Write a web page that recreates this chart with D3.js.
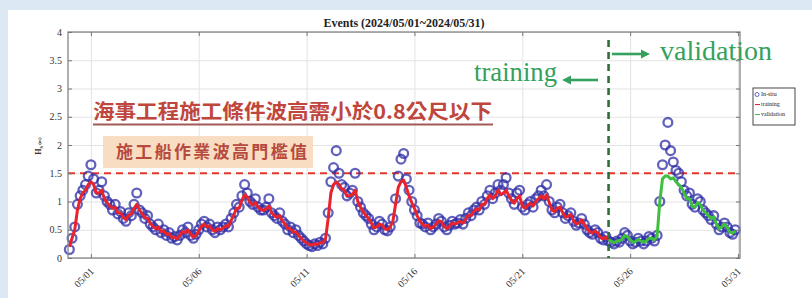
<!DOCTYPE html>
<html>
<head>
<meta charset="utf-8">
<script src="https://cdn.jsdelivr.net/npm/d3@7"></script>
<style>
html, body { margin: 0; padding: 0; background: #dde8f5; }
svg { display: block; }
</style>
</head>
<body>
<svg id="chart" width="812" height="298"></svg>
<script>
// 3-hourly Hs series, first sample at 2024-04-30 00:00
var startTime = "2024-04-30T00:00";
var stepHours = 3;

// in-situ observations (m)
var obsHs = [
  0.15, 0.35, 0.55, 0.95, 1.1, 1.2, 1.3, 1.45,
  1.65, 1.4, 1.15, 1.2, 1.35, 1.1, 1.0, 0.95,
  0.85, 0.95, 0.78, 0.82, 0.7, 0.65, 0.8, 0.75,
  0.95, 1.15, 0.85, 0.8, 0.7, 0.75, 0.6, 0.55,
  0.5, 0.6, 0.45, 0.5, 0.4, 0.45, 0.35, 0.38,
  0.32, 0.4, 0.5, 0.45, 0.55, 0.4, 0.35, 0.42,
  0.5, 0.6, 0.65, 0.55, 0.6, 0.5, 0.45, 0.55,
  0.5, 0.55, 0.6, 0.55, 0.7, 0.8, 0.95, 0.9,
  1.1, 1.3, 1.15, 1.0, 0.95, 1.05, 0.9, 0.85,
  0.85, 0.9, 1.05, 0.8, 0.75, 0.7, 0.8, 0.65,
  0.6, 0.5, 0.55, 0.45, 0.5, 0.4, 0.35, 0.3,
  0.25, 0.22, 0.2, 0.25, 0.22, 0.28, 0.25, 0.35,
  0.8, 1.35, 1.6, 1.9, 1.5, 1.3, 1.25, 1.1,
  1.15, 1.2, 1.5, 1.0, 0.9, 0.8, 0.75, 0.7,
  0.6, 0.5, 0.55, 0.65, 0.6, 0.5, 0.48, 0.55,
  0.7, 1.05, 1.45, 1.75, 1.85, 1.4, 1.2, 1.0,
  0.85, 0.75, 0.62, 0.6, 0.55, 0.62, 0.5, 0.55,
  0.6, 0.7, 0.65, 0.55, 0.5, 0.58, 0.65, 0.6,
  0.62, 0.68, 0.6, 0.7, 0.8, 0.75, 0.85, 0.9,
  0.85, 1.0, 0.95, 1.1, 1.2, 1.05, 1.15, 1.3,
  1.2, 1.3, 1.42, 1.15, 1.05, 0.95, 1.15, 1.2,
  0.9, 0.85, 0.95, 1.0, 0.9, 1.05, 1.1, 1.2,
  1.1, 1.3, 1.0, 0.85, 0.8, 0.9, 0.95, 0.8,
  0.7, 0.75, 0.8, 0.65, 0.58, 0.62, 0.7, 0.6,
  0.5, 0.45, 0.42, 0.5, 0.45, 0.35, 0.32, 0.38,
  0.3, 0.28, 0.25, 0.3, 0.28, 0.35, 0.45, 0.4,
  0.3, 0.25, 0.28, 0.35, 0.3, 0.25, 0.3, 0.38,
  0.35, 0.3, 0.4, 1.0, 1.65, 2.0, 2.4, 1.9,
  1.7, 1.55, 1.5, 1.35, 1.2, 1.1, 1.15, 0.95,
  0.9, 1.05, 1.0, 0.85, 0.8, 0.75, 0.68, 0.75,
  0.6, 0.5, 0.55, 0.62, 0.55, 0.45, 0.42, 0.5
];

// model output (m)
var predHs = [
  0.2, 0.35, 0.5, 0.85, 1.05, 1.15, 1.2, 1.3,
  1.35, 1.3, 1.15, 1.15, 1.2, 1.05, 0.98, 0.92,
  0.88, 0.9, 0.8, 0.8, 0.72, 0.68, 0.76, 0.78,
  0.88, 0.95, 0.85, 0.78, 0.72, 0.7, 0.62, 0.56,
  0.52, 0.55, 0.47, 0.48, 0.42, 0.43, 0.36, 0.37,
  0.34, 0.4, 0.47, 0.45, 0.5, 0.42, 0.37, 0.4,
  0.48, 0.56, 0.6, 0.55, 0.57, 0.5, 0.47, 0.52,
  0.5, 0.53, 0.57, 0.56, 0.66, 0.76, 0.88, 0.88,
  1.02, 1.12, 1.08, 0.98, 0.94, 0.98, 0.9, 0.86,
  0.84, 0.87, 0.92, 0.8, 0.75, 0.72, 0.75, 0.66,
  0.6, 0.52, 0.52, 0.46, 0.46, 0.4, 0.35, 0.3,
  0.27, 0.24, 0.23, 0.25, 0.24, 0.27, 0.27, 0.33,
  0.7, 1.15, 1.3, 1.35, 1.3, 1.22, 1.2, 1.1,
  1.1, 1.12, 1.2, 1.0, 0.9, 0.82, 0.75, 0.7,
  0.62, 0.53, 0.55, 0.6, 0.58, 0.52, 0.5, 0.55,
  0.65, 0.95, 1.25, 1.35, 1.38, 1.25, 1.1, 0.98,
  0.88, 0.75, 0.65, 0.6, 0.56, 0.58, 0.52, 0.55,
  0.6, 0.66, 0.64, 0.56, 0.52, 0.56, 0.62, 0.6,
  0.62, 0.65, 0.62, 0.68, 0.76, 0.75, 0.82, 0.87,
  0.85, 0.95, 0.95, 1.05, 1.12, 1.05, 1.1, 1.2,
  1.12, 1.15, 1.2, 1.1, 1.02, 0.97, 1.05, 1.1,
  0.92, 0.88, 0.93, 0.97, 0.92, 1.0, 1.05, 1.1,
  1.05, 1.12, 0.98, 0.85, 0.82, 0.88, 0.9, 0.8,
  0.72, 0.74, 0.77, 0.66, 0.6, 0.62, 0.67, 0.6,
  0.52, 0.47, 0.44, 0.48, 0.44, 0.36, 0.34, 0.37,
  0.32, 0.3, 0.27, 0.3, 0.3, 0.33, 0.4, 0.38,
  0.32, 0.28, 0.29, 0.33, 0.3, 0.28, 0.3, 0.35,
  0.35, 0.32, 0.38, 1.0, 1.4, 1.45, 1.45, 1.4,
  1.42, 1.35, 1.3, 1.25, 1.15, 1.05, 1.05, 0.92,
  0.9, 0.98, 0.95, 0.85, 0.8, 0.75, 0.7, 0.73,
  0.6, 0.52, 0.55, 0.6, 0.54, 0.46, 0.44, 0.48
];

var splitTime = "2024-05-25T00:00";   // training | validation
var xTickLabels = ["05/01", "05/06", "05/11", "05/16", "05/21", "05/26", "05/31"];
var yTicks = [0, 0.5, 1, 1.5, 2, 2.5, 3, 3.5, 4];
var thresholdHs = 1.5;
var legendLabels = ["In-situ", "training", "validation"];
var titleText = "Events (2024/05/01~2024/05/31)";
var noteMain = "海事工程施工條件波高需小於0.8公尺以下";
var noteBox = "施工船作業波高門檻值";

var parseT = d3.timeParse("%Y-%m-%dT%H:%M");
var parseTick = d3.timeParse("%Y/%m/%d");
var t0 = parseT(startTime);
var tSplit = parseT(splitTime);

var data = obsHs.map(function(v, i) {
  return { t: d3.timeHour.offset(t0, i * stepHours), obs: v, pred: predHs[i] };
});

var margin = { left: 68, right: 740, top: 32, bottom: 258 };

var x = d3.scaleTime()
  .domain([parseT("2024-04-29T22:30"), parseT("2024-05-31T02:15")])
  .range([margin.left, margin.right]);
var y = d3.scaleLinear().domain([0, 4]).range([margin.bottom, margin.top]);

var xTicks = xTickLabels.map(function(s) { return parseTick("2024/" + s); });

var svg = d3.select("#chart");
var serif = "'Liberation Serif', 'DejaVu Serif', serif";
var green = "#34a15c";

// white panel
svg.append("rect").attr("x", 8).attr("y", 10).attr("width", 804).attr("height", 288).attr("fill", "#ffffff");

// grid
svg.append("g")
  .attr("transform", "translate(0," + margin.bottom + ")")
  .call(d3.axisBottom(x).tickValues(xTicks).tickSize(-(margin.bottom - margin.top)).tickFormat(""))
  .call(function(g) { g.select(".domain").remove(); g.selectAll("line").attr("stroke", "#e3e3e3"); });
svg.append("g")
  .attr("transform", "translate(" + margin.left + ",0)")
  .call(d3.axisLeft(y).tickValues(yTicks).tickSize(-(margin.right - margin.left)).tickFormat(""))
  .call(function(g) { g.select(".domain").remove(); g.selectAll("line").attr("stroke", "#e3e3e3"); });

// threshold line
svg.append("line")
  .attr("x1", margin.left).attr("x2", margin.right)
  .attr("y1", y(thresholdHs)).attr("y2", y(thresholdHs))
  .attr("stroke", "#e2392e").attr("stroke-width", 2.2).attr("stroke-dasharray", "7,5");

// in-situ circles
svg.append("g").selectAll("circle")
  .data(data)
  .enter().append("circle")
  .attr("cx", function(d) { return x(d.t); })
  .attr("cy", function(d) { return y(d.obs); })
  .attr("r", 4.4)
  .attr("fill", "none")
  .attr("stroke", "#2e2ea6")
  .attr("stroke-opacity", 0.75)
  .attr("stroke-width", 2.3);

var line = d3.line()
  .x(function(d) { return x(d.t); })
  .y(function(d) { return y(d.pred); });

var trainData = data.filter(function(d) { return d.t <= tSplit; });
var validData = data.filter(function(d) { return d.t >= tSplit; });

svg.append("path").datum(trainData)
  .attr("d", line).attr("fill", "none")
  .attr("stroke", "#e8232b").attr("stroke-width", 3).attr("stroke-linejoin", "round");
svg.append("path").datum(validData)
  .attr("d", line).attr("fill", "none")
  .attr("stroke", "#3fbf3f").attr("stroke-width", 3).attr("stroke-linejoin", "round");

// plot box + inward ticks
svg.append("rect")
  .attr("x", margin.left).attr("y", margin.top)
  .attr("width", margin.right - margin.left).attr("height", margin.bottom - margin.top)
  .attr("fill", "none").attr("stroke", "#858585").attr("stroke-width", 1.3);

var xAxis = svg.append("g")
  .attr("transform", "translate(0," + margin.bottom + ")")
  .call(d3.axisBottom(x).tickValues(xTicks).tickSize(-4).tickFormat(d3.timeFormat("%m/%d")));
xAxis.select(".domain").remove();
xAxis.selectAll("line").attr("stroke", "#777");
xAxis.selectAll("text")
  .attr("font-family", serif).attr("font-size", 10).attr("fill", "#333")
  .attr("text-anchor", "end")
  .attr("dy", null).attr("y", 0)
  .attr("transform", "translate(3,14) rotate(-45)");

svg.append("g")
  .attr("transform", "translate(0," + margin.top + ")")
  .call(d3.axisTop(x).tickValues(xTicks).tickSize(-4).tickFormat(""))
  .call(function(g) { g.select(".domain").remove(); g.selectAll("line").attr("stroke", "#777"); });

var yAxis = svg.append("g")
  .attr("transform", "translate(" + margin.left + ",0)")
  .call(d3.axisLeft(y).tickValues(yTicks).tickSize(-4).tickPadding(6).tickFormat(d3.format("")));
yAxis.select(".domain").remove();
yAxis.selectAll("line").attr("stroke", "#777");
yAxis.selectAll("text").attr("font-family", serif).attr("font-size", 10).attr("fill", "#333");

svg.append("g")
  .attr("transform", "translate(" + margin.right + ",0)")
  .call(d3.axisRight(y).tickValues(yTicks).tickSize(-4).tickFormat(""))
  .call(function(g) { g.select(".domain").remove(); g.selectAll("line").attr("stroke", "#777"); });

// title
svg.append("text")
  .attr("x", (margin.left + margin.right) / 2).attr("y", 27)
  .attr("text-anchor", "middle")
  .attr("font-family", serif).attr("font-weight", "bold").attr("font-size", 12)
  .attr("fill", "#222")
  .text(titleText);

// y label
var yl = svg.append("text")
  .attr("transform", "translate(41,146) rotate(-90)")
  .attr("text-anchor", "middle")
  .attr("font-family", serif).attr("font-weight", "bold").attr("font-size", 8).attr("fill", "#333");
yl.append("tspan").text("H");
yl.append("tspan").attr("font-size", 6).attr("dy", 2).text("s");
yl.append("tspan").attr("font-size", 5).attr("dy", -2).text(" (m)");

// split line
svg.append("line")
  .attr("x1", x(tSplit)).attr("x2", x(tSplit))
  .attr("y1", 40).attr("y2", margin.bottom)
  .attr("stroke", "#2f6f3a").attr("stroke-width", 2.6).attr("stroke-dasharray", "7,5");

// training / validation labels
svg.append("text")
  .attr("x", 474).attr("y", 81)
  .attr("font-family", serif).attr("font-size", 27).attr("fill", green)
  .attr("textLength", 83).attr("lengthAdjust", "spacingAndGlyphs")
  .text("training");
svg.append("line").attr("x1", 568).attr("x2", 598).attr("y1", 80).attr("y2", 80)
  .attr("stroke", green).attr("stroke-width", 2.6);
svg.append("path").attr("d", "M562,80 L571,75.5 L571,84.5 Z").attr("fill", green);

svg.append("text")
  .attr("x", 660).attr("y", 60)
  .attr("font-family", serif).attr("font-size", 27).attr("fill", green)
  .attr("textLength", 112).attr("lengthAdjust", "spacingAndGlyphs")
  .text("validation");
svg.append("line").attr("x1", 612).attr("x2", 643).attr("y1", 54).attr("y2", 54)
  .attr("stroke", green).attr("stroke-width", 2.6);
svg.append("path").attr("d", "M650,54 L641,49.5 L641,58.5 Z").attr("fill", green);

// Chinese notes
var cjk = "'Noto Sans CJK TC', 'Noto Sans CJK SC', sans-serif";
svg.append("text")
  .attr("x", 93).attr("y", 119)
  .attr("font-family", cjk).attr("font-weight", "bold").attr("font-size", 20)
  .attr("fill", "#bf463d")
  .attr("textLength", 399).attr("lengthAdjust", "spacingAndGlyphs")
  .text(noteMain);
svg.append("line").attr("x1", 93).attr("x2", 493).attr("y1", 124.5).attr("y2", 124.5)
  .attr("stroke", "#a25a58").attr("stroke-width", 2);

svg.append("rect").attr("x", 103).attr("y", 136).attr("width", 210).attr("height", 32)
  .attr("fill", "#f8ddc2");
svg.append("text")
  .attr("x", 116).attr("y", 158)
  .attr("font-family", cjk).attr("font-weight", "bold").attr("font-size", 17)
  .attr("fill", "#b64a3e")
  .attr("textLength", 191).attr("lengthAdjust", "spacing")
  .text(noteBox);

// legend
var lg = svg.append("g");
lg.append("rect").attr("x", 753).attr("y", 88).attr("width", 42).attr("height", 37)
  .attr("fill", "#fff").attr("stroke", "#333").attr("stroke-width", 0.9);
var rowY = [96, 106, 116];
lg.append("circle").attr("cx", 757).attr("cy", rowY[0] - 1.5).attr("r", 2)
  .attr("fill", "none").attr("stroke", "#3a3db6").attr("stroke-width", 0.8);
lg.append("line").attr("x1", 755).attr("x2", 760).attr("y1", rowY[1] - 1.5).attr("y2", rowY[1] - 1.5)
  .attr("stroke", "#e8232b").attr("stroke-width", 1);
lg.append("line").attr("x1", 755).attr("x2", 760).attr("y1", rowY[2] - 1.5).attr("y2", rowY[2] - 1.5)
  .attr("stroke", "#3fbf3f").attr("stroke-width", 1);
lg.selectAll("text.lab")
  .data(legendLabels)
  .enter().append("text")
  .attr("class", "lab")
  .attr("x", 761)
  .attr("y", function(d, i) { return rowY[i]; })
  .attr("font-family", serif).attr("font-size", 6).attr("fill", "#222")
  .text(function(d) { return d; });
</script>
</body>
</html>
